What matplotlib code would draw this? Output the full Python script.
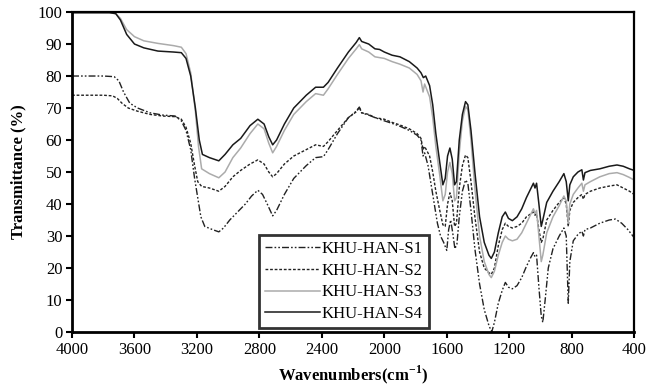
import numpy as np
import matplotlib
matplotlib.use("Agg")
import matplotlib.pyplot as plt

plt.rcParams['font.family'] = ['Liberation Serif', 'DejaVu Serif']
plt.rcParams['mathtext.fontset'] = 'custom'
plt.rcParams['mathtext.rm'] = 'Liberation Serif:bold'
plt.rcParams['mathtext.bf'] = 'Liberation Serif:bold'

# ---- data (wavenumber cm-1, transmittance %) ----
wn_s4 = [4000, 3760, 3720, 3690, 3650, 3600, 3540, 3450, 3350, 3300, 3270, 3240, 3210, 3185, 3165,
         3120, 3060, 3020, 2970, 2920, 2860, 2810, 2770, 2740, 2715, 2690, 2640, 2580, 2500, 2440,
         2390, 2360, 2300, 2230, 2180, 2160, 2145, 2100, 2060, 2030, 2000, 1950, 1900, 1840, 1790,
         1765, 1750, 1735, 1710, 1690, 1670, 1645, 1625, 1610, 1595, 1580, 1565, 1550, 1538, 1520,
         1500, 1480, 1465, 1445, 1420, 1390, 1360, 1330, 1315, 1295, 1270, 1245, 1225, 1205, 1180,
         1150, 1120, 1090, 1060, 1045, 1035, 1025, 1010, 995, 985, 960, 920, 880, 850, 835,
         822, 812, 790, 760, 735, 725, 715, 680, 620, 560, 510, 470, 430, 400]
t_s4 = [99.8, 99.8, 99.5, 97.5, 93, 90, 88.8, 87.8, 87.5, 87.3, 85.5, 80, 70, 60, 55.5,
        54.5, 53.5, 55.5, 58.5, 60.5, 64.5, 66.5, 65, 61, 58.5, 60, 65, 70, 74, 76.5,
        76.5, 78, 82.5, 87.5, 90.5, 92, 90.8, 90, 88.5, 88.3, 87.5, 86.5, 86, 84.5, 82.5,
        81, 79.5, 80, 77, 71, 62, 53, 46, 48, 55, 57.5, 54, 46, 47, 60,
        68, 72, 71, 63, 50, 36, 28, 24, 23, 25, 31, 36, 37.5, 35.5, 34.8,
        36, 38.5, 42, 45, 46.5, 45, 46.5, 40, 33, 35, 40.5, 44, 47, 49.5, 47,
        41, 46, 48.5, 50, 50.7, 47.5, 49.8, 50.5, 51, 51.8, 52.2, 51.8, 51, 50.5]

wn_s3 = [4000, 3760, 3720, 3690, 3650, 3600, 3540, 3450, 3350, 3300, 3270, 3240, 3210, 3190, 3170,
         3120, 3060, 3020, 2970, 2920, 2860, 2810, 2770, 2740, 2715, 2690, 2640, 2580, 2500, 2440,
         2390, 2360, 2300, 2230, 2180, 2160, 2145, 2100, 2060, 2000, 1950, 1900, 1840, 1790, 1765,
         1752, 1742, 1710, 1690, 1670, 1645, 1625, 1610, 1595, 1580, 1565, 1550, 1538, 1520, 1500,
         1480, 1465, 1445, 1420, 1390, 1360, 1330, 1315, 1295, 1270, 1245, 1225, 1205, 1180, 1150,
         1120, 1090, 1060, 1045, 1035, 1025, 1010, 995, 985, 960, 920, 880, 850, 835, 822,
         812, 790, 760, 735, 725, 715, 680, 620, 560, 510, 470, 430, 400]
t_s3 = [99.8, 99.8, 99.5, 98, 94.5, 92.3, 91, 90.2, 89.5, 89, 87, 81, 69, 58, 51,
        49.5, 48.2, 50, 54.5, 57.5, 62, 65, 63.5, 59, 56, 58, 63, 68, 72, 74.5,
        74, 76, 80.5, 85.5, 88.5, 89.8, 88.5, 87.5, 86, 85.5, 84.5, 83.7, 82.5, 80.5, 78.5,
        75, 77.5, 73.5, 67, 58, 49, 41, 43, 50, 53, 49.5, 41, 42, 56, 66,
        70.5, 69.5, 60, 45, 30, 22, 18, 17, 19, 24, 28, 30, 29, 28.5, 29,
        31, 34, 37, 38.5, 37, 38, 30, 22, 24, 31, 36, 39.5, 42.5, 41, 34,
        40, 43, 45, 46.5, 44, 46, 47, 48.5, 49.5, 49.8, 49.2, 48.3, 47.5]

wn_s2 = [4000, 3900, 3800, 3740, 3710, 3680, 3640, 3580, 3500, 3420, 3340, 3300, 3270, 3240, 3215,
         3195, 3170, 3120, 3060, 3020, 2970, 2920, 2860, 2810, 2770, 2740, 2715, 2690, 2640, 2580,
         2500, 2440, 2390, 2360, 2300, 2230, 2180, 2160, 2145, 2100, 2060, 2000, 1950, 1900, 1840,
         1790, 1765, 1752, 1742, 1710, 1690, 1670, 1645, 1625, 1610, 1595, 1580, 1565, 1550, 1538,
         1520, 1500, 1480, 1465, 1445, 1420, 1390, 1360, 1330, 1315, 1295, 1270, 1245, 1225, 1205,
         1180, 1150, 1120, 1090, 1060, 1045, 1035, 1025, 1010, 995, 985, 960, 920, 880, 850,
         835, 822, 812, 790, 760, 735, 725, 715, 680, 620, 560, 510, 470, 430, 400]
t_s2 = [74, 74, 74, 73.8, 73, 71.5, 70, 69, 68, 67.5, 67.3, 66.5, 64, 59, 52,
        47, 45.5, 45, 44, 45.5, 48.5, 50.5, 52.5, 53.8, 52.5, 50, 48.5, 49.5, 52.5, 55,
        57, 58.5, 58, 59.5, 63, 67, 68.8, 70.2, 68.5, 68, 67, 66.5, 65.5, 64.7, 63.5,
        62, 60.5, 57, 58, 55, 50, 44, 38, 33.5, 33, 40, 43.5, 41, 33, 34,
        45, 52, 55.3, 54.5, 47, 36, 25, 20, 18.5, 18, 20, 27, 32, 34, 33,
        32.5, 33, 34, 36, 37, 37.5, 36.5, 37, 32, 28, 29, 35, 38, 40.5, 42,
        40, 33, 38, 40.5, 42, 43, 41.5, 43, 44, 45, 45.6, 46, 45, 44, 43]

wn_s1 = [4000, 3900, 3800, 3730, 3700, 3670, 3630, 3580, 3500, 3420, 3340, 3300, 3270, 3240, 3215,
         3195, 3175, 3150, 3100, 3060, 3030, 2990, 2940, 2890, 2850, 2810, 2780, 2750, 2715, 2690,
         2640, 2580, 2500, 2440, 2390, 2360, 2300, 2230, 2180, 2160, 2145, 2100, 2060, 2000, 1950,
         1900, 1840, 1790, 1765, 1752, 1742, 1720, 1700, 1680, 1660, 1640, 1620, 1600, 1588, 1575,
         1562, 1548, 1535, 1520, 1500, 1480, 1465, 1445, 1420, 1390, 1360, 1330, 1312, 1295, 1270,
         1245, 1225, 1205, 1180, 1150, 1120, 1090, 1060, 1045, 1035, 1025, 1010, 995, 985, 970,
         950, 920, 880, 850, 835, 822, 812, 790, 760, 735, 725, 715, 680, 620, 560,
         520, 480, 440, 400]
t_s1 = [80, 80, 80, 79.8, 78.5, 75, 71.5, 70, 68.5, 67.8, 67.5, 66, 63, 57, 48,
        42, 36, 33, 32, 31.3, 32.5, 35, 37.5, 40, 42.5, 44.3, 43, 40, 36.3, 38,
        43, 48, 52, 54.5, 54.8, 57, 62, 67, 69, 70.3, 68.5, 67.8, 67, 66, 65.2,
        64.3, 63, 61.5, 60, 55, 56, 52, 46, 40, 34, 30, 28, 25.5, 32, 35,
        31, 26, 27.5, 36, 44, 47.5, 46.5, 38, 26, 15, 7, 2, 0, 3, 9,
        13, 15.5, 14, 13.5, 14.5, 17, 20.5, 23.5, 24.8, 23.5, 24, 14, 5, 3, 10,
        20, 26, 30, 32.5, 30, 9, 22, 28.5, 30.5, 31.5, 30, 32, 32.5, 34, 35,
        35.3, 34, 32, 29.5]

labels = ['KHU-HAN-S1', 'KHU-HAN-S2', 'KHU-HAN-S3', 'KHU-HAN-S4']
x_ticks = [4000, 3600, 3200, 2800, 2400, 2000, 1600, 1200, 800, 400]
y_ticks = [0, 10, 20, 30, 40, 50, 60, 70, 80, 90, 100]

fig = plt.figure(figsize=(6.59, 3.88), dpi=100)
ax = fig.add_axes([0.1093, 0.1443, 0.853, 0.8247])

ax.plot(wn_s1, t_s1, color='#222222', lw=1.0, dashes=(5, 1.5, 1.2, 1.5, 1.2, 1.5), label=labels[0])
ax.plot(wn_s2, t_s2, color='#222222', lw=1.0, dashes=(2, 1.3), label=labels[1])
ax.plot(wn_s3, t_s3, color='#ababab', lw=1.1, label=labels[2])
ax.plot(wn_s4, t_s4, color='#1a1a1a', lw=1.1, label=labels[3])

ax.set_xlim(4000, 400)
ax.set_ylim(0, 100)
ax.set_xticks(x_ticks)
ax.set_yticks(y_ticks)
ax.tick_params(axis='both', direction='out', length=4, width=1.5, labelsize=12, pad=3)

for side in ['left', 'bottom']:
    ax.spines[side].set_linewidth(2.0)
for side in ['top', 'right']:
    ax.spines[side].set_linewidth(1.6)

ax.set_xlabel('Wavenumbers(cm$^{-1}$)', fontsize=12, fontweight='bold', labelpad=4)
ax.set_ylabel('Transmittance (%)', fontsize=12, fontweight='bold', labelpad=8)

leg = ax.legend(loc='lower left', bbox_to_anchor=(0.333, 0.0125), fontsize=12, frameon=True,
                fancybox=False, edgecolor='black', handlelength=3.3, handletextpad=0.1,
                labelspacing=0.35, borderpad=0.35, borderaxespad=0)
leg.get_frame().set_linewidth(2.0)

fig.savefig('out.png', dpi=100)
